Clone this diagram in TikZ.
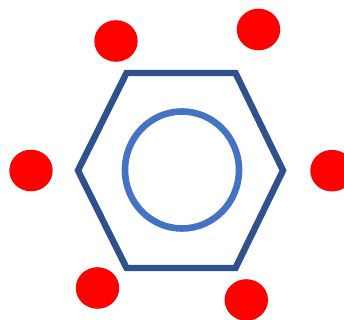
\documentclass[tikz,border=0pt]{standalone}
\usepackage{tikz}
\definecolor{hexblue}{HTML}{2F528F}
\definecolor{ringblue}{HTML}{4472C4}
\tikzset{
  hexline/.style={draw=hexblue,line width=4.6pt,miter limit=10},
  ringline/.style={draw=ringblue,line width=4.7pt},
  reddot/.style={fill=red}
}

\begin{document}
\begin{tikzpicture}[x=0.025cm,y=-0.025cm]
  % coordinates are reference pixels, y downwards
  \clip (0,0) rectangle (344,320);
  \draw[hexline] (126.5,73) -- (235.5,73) -- (283,170.5) -- (235.5,268) -- (126.5,268) -- (78,170.5) -- cycle;
  \draw[ringline] (182,170) ellipse (57 and 58.5);
  \foreach \x/\y in {116/41,258.5/29.5,31/170.5,332/170.7,97.5/288,246.3/300} {
     \fill[reddot] (\x,\y) ellipse (21.7 and 20.8);
  }
\end{tikzpicture}
\end{document}
